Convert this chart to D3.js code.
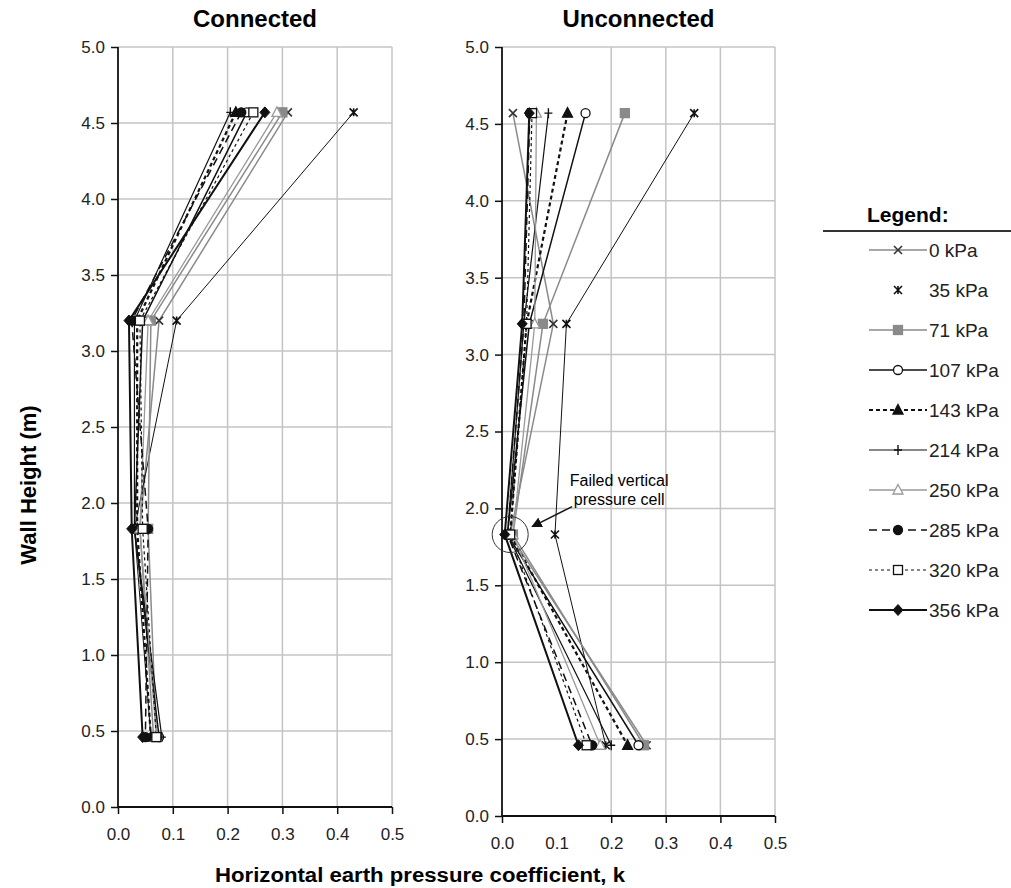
<!DOCTYPE html>
<html>
<head>
<meta charset="utf-8">
<script src="https://cdn.jsdelivr.net/npm/d3@7"></script>
<style>
body { margin: 0; background: #fff; }
svg { font-family: "Liberation Sans", Arial, sans-serif; }
</style>
</head>
<body>
<svg id="chart" width="1011" height="888"></svg>
<script>
// wall heights of the pressure cells (m)
let heights = [4.57, 3.2, 1.83, 0.46];
let seriesNames = ["0 kPa", "35 kPa", "71 kPa", "107 kPa", "143 kPa", "214 kPa", "250 kPa", "285 kPa", "320 kPa", "356 kPa"];

// k values, one row per series, top to bottom
let connected = [
    [0.31, 0.075, 0.04, 0.065],
    [0.43, 0.107, 0.03, 0.06],
    [0.30, 0.06, 0.055, 0.07],
    [0.235, 0.045, 0.03, 0.075],
    [0.215, 0.035, 0.035, 0.06],
    [0.205, 0.03, 0.03, 0.08],
    [0.29, 0.055, 0.04, 0.07],
    [0.225, 0.025, 0.055, 0.05],
    [0.247, 0.04, 0.045, 0.07],
    [0.268, 0.02, 0.025, 0.045]
];
let unconnected = [
    [0.02, 0.094, 0.015, 0.265],
    [0.352, 0.118, 0.097, 0.19],
    [0.225, 0.075, 0.02, 0.26],
    [0.153, 0.05, 0.01, 0.25],
    [0.12, 0.045, 0.015, 0.23],
    [0.085, 0.04, 0.01, 0.2],
    [0.063, 0.06, 0.02, 0.18],
    [0.051, 0.04, 0.01, 0.165],
    [0.055, 0.045, 0.015, 0.155],
    [0.05, 0.037, 0.005, 0.14]
];
let xTicks = [0, 0.1, 0.2, 0.3, 0.4, 0.5];
let yTicks = [0, 0.5, 1, 1.5, 2, 2.5, 3, 3.5, 4, 4.5, 5];

// line + marker style per series
let styles = [
    {stroke: "#8a8a8a", width: 1.5, dash: null, marker: "x", mfill: "none", mstroke: "#333"},
    {stroke: "#111", width: 1, dash: null, marker: "star", mfill: "none", mstroke: "#111", noLegendLine: true},
    {stroke: "#8a8a8a", width: 1.5, dash: null, marker: "square", mfill: "#8a8a8a", mstroke: "#8a8a8a"},
    {stroke: "#111", width: 1.5, dash: null, marker: "circle", mfill: "#fff", mstroke: "#111"},
    {stroke: "#111", width: 2.2, dash: "4,3", marker: "triangle", mfill: "#111", mstroke: "#111"},
    {stroke: "#111", width: 1.2, dash: null, marker: "plus", mfill: "none", mstroke: "#111"},
    {stroke: "#9a9a9a", width: 1.3, dash: null, marker: "triangle", mfill: "#fff", mstroke: "#9a9a9a"},
    {stroke: "#111", width: 1.5, dash: "8,5", marker: "circle", mfill: "#111", mstroke: "#111"},
    {stroke: "#111", width: 1.2, dash: "3,3", marker: "square", mfill: "#fff", mstroke: "#111"},
    {stroke: "#111", width: 2, dash: null, marker: "diamond", mfill: "#111", mstroke: "#111"}
];

let svg = d3.select("#chart");

function drawMarker(g, type, x, y, st) {
    if (type == "x") {
        g.append("path").attr("d", `M${x-4},${y-4}L${x+4},${y+4}M${x-4},${y+4}L${x+4},${y-4}`)
            .style("stroke", st.mstroke).style("stroke-width", 1.6).style("fill", "none");
    } else if (type == "star") {
        g.append("path").attr("d", `M${x-4},${y-4}L${x+4},${y+4}M${x-4},${y+4}L${x+4},${y-4}M${x},${y-4}L${x},${y+4}`)
            .style("stroke", st.mstroke).style("stroke-width", 1.6).style("fill", "none");
    } else if (type == "plus") {
        g.append("path").attr("d", `M${x-4},${y}L${x+4},${y}M${x},${y-5}L${x},${y+5}`)
            .style("stroke", st.mstroke).style("stroke-width", 1.4).style("fill", "none");
    } else if (type == "square") {
        g.append("rect").attr("x", x-4.5).attr("y", y-4.5).attr("width", 9).attr("height", 9)
            .style("fill", st.mfill).style("stroke", st.mstroke).style("stroke-width", 1.3);
    } else if (type == "circle") {
        g.append("circle").attr("cx", x).attr("cy", y).attr("r", 4.5)
            .style("fill", st.mfill).style("stroke", st.mstroke).style("stroke-width", 1.3);
    } else if (type == "triangle") {
        g.append("path").attr("d", `M${x},${y-5.5}L${x+5},${y+4}L${x-5},${y+4}Z`)
            .style("fill", st.mfill).style("stroke", st.mstroke).style("stroke-width", 1.3);
    } else if (type == "diamond") {
        g.append("path").attr("d", `M${x},${y-5.5}L${x+5},${y}L${x},${y+5.5}L${x-5},${y}Z`)
            .style("fill", st.mfill).style("stroke", st.mstroke).style("stroke-width", 1);
    }
}

function drawPanel(data, left, right, top, bottom, title, gridX) {
    let x = d3.scaleLinear().domain([0, 0.5]).range([left, right]);
    let y = d3.scaleLinear().domain([0, 5]).range([bottom, top]);
    let g = svg.append("g");

    // grid
    g.append("g").selectAll("line.gx").data(gridX).enter().append("line")
        .attr("x1", d => x(d)).attr("x2", d => x(d)).attr("y1", top).attr("y2", bottom)
        .style("stroke", "#c4c4c4").style("stroke-width", 1.5);
    g.append("g").selectAll("line.gy").data(yTicks.slice(1)).enter().append("line")
        .attr("x1", left).attr("x2", right).attr("y1", d => y(d)).attr("y2", d => y(d))
        .style("stroke", "#c4c4c4").style("stroke-width", 1.5);

    // axes
    let ya = g.append("g").attr("transform", `translate(${left},0)`)
        .call(d3.axisLeft(y).tickValues(yTicks).tickFormat(d3.format(".1f")).tickSize(7).tickPadding(6));
    let xa = g.append("g").attr("transform", `translate(0,${bottom})`)
        .call(d3.axisBottom(x).tickValues(xTicks).tickFormat(d3.format(".1f")).tickSize(7).tickPadding(14));
    xa.selectAll(".tick line").style("display", d => (d == 0 || gridX.indexOf(d) >= 0) ? null : "none");
    [ya, xa].forEach(a => {
        a.select(".domain").style("stroke", "#111").style("stroke-width", 1.8);
        a.selectAll(".tick line").style("stroke", "#111").style("stroke-width", 1.5);
        a.selectAll("text").style("font-size", "17px").style("fill", "#222")
            .style("font-family", "'Liberation Sans', Arial, sans-serif");
    });
    ya.select(".domain").attr("d", `M0,${bottom}V${top}`);
    xa.select(".domain").attr("d", `M${left},0H${right}`);

    // series lines
    let line = d3.line().x(d => x(d[0])).y(d => y(d[1]));
    data.forEach((vals, i) => {
        let st = styles[i];
        let pts = vals.map((v, j) => [v, heights[j]]);
        g.append("path").attr("d", line(pts))
            .style("fill", "none").style("stroke", st.stroke).style("stroke-width", st.width)
            .style("stroke-dasharray", st.dash);
    });
    data.forEach((vals, i) => {
        vals.forEach((v, j) => drawMarker(g, styles[i].marker, x(v), y(heights[j]), styles[i]));
    });

    svg.append("text").attr("x", (left + right) / 2).attr("y", 27)
        .attr("text-anchor", "middle").style("font-size", "24px").style("font-weight", "bold")
        .text(title);
    return {x: x, y: y};
}

let gridAll = [0.1, 0.2, 0.3, 0.4, 0.5];
drawPanel(connected, 118, 392, 47, 807, "Connected", gridAll);
let pr = drawPanel(unconnected, 502, 775, 47, 816, "Unconnected", [0.2, 0.3, 0.4, 0.5]);

// annotation on the right panel
let cx = pr.x(0.015), cy = pr.y(1.83);
svg.append("circle").attr("cx", cx).attr("cy", cy).attr("r", 18)
    .style("fill", "none").style("stroke", "#333").style("stroke-width", 1);
svg.append("defs").append("marker").attr("id", "arr").attr("viewBox", "0 0 10 10")
    .attr("refX", 9).attr("refY", 5).attr("markerWidth", 7).attr("markerHeight", 7).attr("orient", "auto")
    .append("path").attr("d", "M0,0L10,5L0,10Z").style("fill", "#111");
svg.append("line").attr("x1", cx + 62).attr("y1", cy - 28).attr("x2", cx + 22).attr("y2", cy - 8)
    .style("stroke", "#111").style("stroke-width", 1.5).attr("marker-end", "url(#arr)");
svg.append("text").attr("x", cx + 109).attr("y", cy - 49).attr("text-anchor", "middle")
    .style("font-size", "16px").text("Failed vertical");
svg.append("text").attr("x", cx + 109).attr("y", cy - 30).attr("text-anchor", "middle")
    .style("font-size", "16px").text("pressure cell");

// axis titles
svg.append("text").attr("transform", "translate(36,485) rotate(-90)").attr("text-anchor", "middle")
    .style("font-size", "22px").style("font-weight", "bold").text("Wall Height (m)");
svg.append("text").attr("x", 420).attr("y", 882).attr("text-anchor", "middle")
    .style("font-size", "20px").style("font-weight", "bold")
    .attr("textLength", 410).attr("lengthAdjust", "spacingAndGlyphs")
    .text("Horizontal earth pressure coefficient, k");

// legend
let lg = svg.append("g");
lg.append("text").attr("x", 867).attr("y", 222).style("font-size", "21px").style("font-weight", "bold").text("Legend:");
lg.append("line").attr("x1", 823).attr("x2", 1011).attr("y1", 231).attr("y2", 231)
    .style("stroke", "#333").style("stroke-width", 2);
seriesNames.forEach((name, i) => {
    let st = styles[i];
    let ly = 250 + i * 40;
    if (!st.noLegendLine) {
        lg.append("line").attr("x1", 869).attr("x2", 927).attr("y1", ly).attr("y2", ly)
            .style("stroke", st.stroke).style("stroke-width", st.width).style("stroke-dasharray", st.dash);
    }
    drawMarker(lg, st.marker, 898, ly, st);
    lg.append("text").attr("x", 929).attr("y", ly + 7).style("font-size", "19px").style("fill", "#222").text(name);
});
</script>
</body>
</html>
